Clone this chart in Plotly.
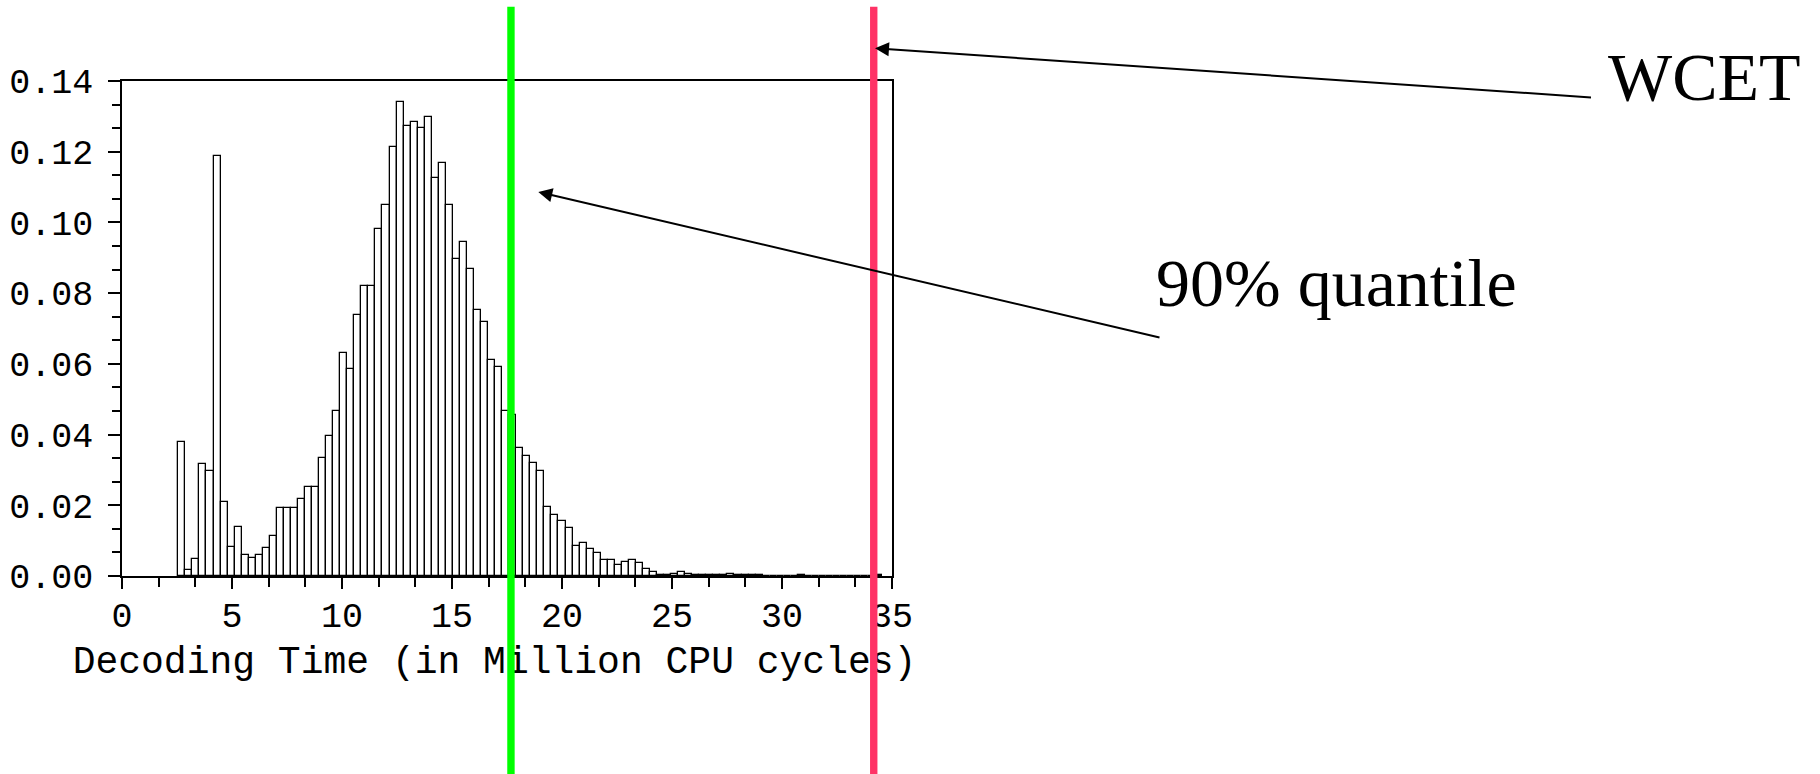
import plotly.graph_objects as go

# ---------------- data ----------------
BIN_WIDTH = 0.32          # million CPU cycles per histogram bin
FIRST_BIN = 8             # index of first drawn bin (bins aligned at 0)
# relative frequency of each bin, starting at bin FIRST_BIN
frequencies = [
    0.0380, 0.0016, 0.0049, 0.0318, 0.0297, 0.1189, 0.0210, 0.0082, 0.0140, 0.0058,
    0.0050, 0.0060, 0.0078, 0.0114, 0.0192, 0.0192, 0.0192, 0.0219, 0.0251, 0.0251,
    0.0334, 0.0397, 0.0466, 0.0631, 0.0586, 0.0739, 0.0819, 0.0821, 0.0982, 0.1049,
    0.1214, 0.1341, 0.1272, 0.1284, 0.1268, 0.1297, 0.1127, 0.1169, 0.1049, 0.0897,
    0.0946, 0.0868, 0.0751, 0.0719, 0.0612, 0.0591, 0.0466, 0.0455, 0.0363, 0.0338,
    0.0321, 0.0297, 0.0195, 0.0173, 0.0156, 0.0136, 0.0086, 0.0094, 0.0077, 0.0065,
    0.0044, 0.0044, 0.0032, 0.0039, 0.0044, 0.0036, 0.0020, 0.0011, 0.0004, 0.0003,
    0.0007, 0.0010, 0.0007, 0.0003, 0.0003, 0.0003, 0.0003, 0.0003, 0.0007, 0.0003,
    0.0003, 0.0003, 0.0003, 0.0, 0.0, 0.0, 0.0, 0.0, 0.0004, 0.0,
    0.0, 0.0, 0.0, 0.0, 0.0, 0.0, 0.0, 0.0, 0.0, 0.0004,
]
quantile90 = 17.68        # 90% quantile (million cycles)
wcet = 34.17              # WCET (million cycles)
x_range = [0, 35]
y_range = [0, 0.14]
x_title = "Decoding Time (in Million CPU cycles)"
label_wcet = "WCET"
label_q90 = "90% quantile"

# ---------------- figure ----------------
W, H = 1820, 774
BOX_L, BOX_R, BOX_T, BOX_B = 122, 892, 81, 576   # plot box in pixels


def px_x(p):   # pixel -> paper x
    return p / W


def px_y(p):   # pixel -> paper y
    return 1 - p / H


bin_centers = [(FIRST_BIN + i + 0.5) * BIN_WIDTH for i in range(len(frequencies))]

fig = go.Figure()
fig.add_trace(go.Bar(
    x=bin_centers, y=frequencies, width=BIN_WIDTH,
    marker=dict(color="white", line=dict(color="black", width=1.3)),
    hoverinfo="skip", showlegend=False, xaxis="x", yaxis="y",
))

# x-axis title drawn as text in a pixel-space overlay so the marker lines cover it
fig.add_trace(go.Scatter(
    x=[494.5], y=[663], mode="text", text=[x_title],
    textposition="middle center", cliponaxis=False,
    textfont=dict(family="Liberation Mono", size=38, color="black"),
    hoverinfo="skip", showlegend=False, xaxis="x2", yaxis="y2",
))

mono = dict(family="Liberation Mono", size=35, color="black")
fig.update_layout(
    xaxis=dict(
        domain=[px_x(BOX_L), px_x(BOX_R)], anchor="y", automargin=False,
        range=x_range, showgrid=False, zeroline=False,
        showline=True, linecolor="black", linewidth=1.5, mirror=True,
        ticks="outside", ticklen=11, tickwidth=1.5, tickcolor="black",
        tick0=0, dtick=5, tickfont=mono, ticklabelstandoff=-4,
        minor=dict(ticks="outside", dtick=5 / 3, tick0=0, ticklen=9,
                   tickwidth=1.5, tickcolor="black", showgrid=False),
        fixedrange=True,
    ),
    yaxis=dict(
        domain=[px_y(BOX_B), px_y(BOX_T)], anchor="x", automargin=False,
        range=y_range, showgrid=False, zeroline=False,
        showline=True, linecolor="black", linewidth=1.5, mirror=True,
        ticks="outside", ticklen=12, tickwidth=1.5, tickcolor="black",
        tick0=0, dtick=0.02, tickformat=".2f", tickfont=mono, ticklabelstandoff=8,
        minor=dict(ticks="outside", dtick=0.02 / 3, tick0=0, ticklen=8,
                   tickwidth=1.5, tickcolor="black", showgrid=False),
        fixedrange=True,
    ),
    xaxis2=dict(domain=[0, 1], anchor="y2", range=[0, W], visible=False,
                automargin=False, fixedrange=True),
    yaxis2=dict(domain=[0, 1], anchor="x2", range=[H, 0], visible=False,
                automargin=False, fixedrange=True),
)

# vertical marker lines
for xv, col in [(quantile90, "#00FF00"), (wcet, "#FF3366")]:
    fig.add_shape(type="line", xref="x", yref="paper",
                  x0=xv, x1=xv, y0=0, y1=px_y(6.7),
                  line=dict(color=col, width=7.4), layer="above")

serif = dict(family="Liberation Serif", size=68, color="black")
# arrows
fig.add_annotation(xref="paper", yref="paper", x=px_x(875), y=px_y(48.3),
                   ax=1592.5 - 875, ay=97.5 - 48.3, text="", showarrow=True,
                   arrowhead=2, arrowsize=1.4, arrowwidth=2, arrowcolor="black",
                   standoff=0, startstandoff=0)
fig.add_annotation(xref="paper", yref="paper", x=px_x(538.3), y=px_y(191.9),
                   ax=1161 - 538.3, ay=337.8 - 191.9, text="", showarrow=True,
                   arrowhead=2, arrowsize=1.4, arrowwidth=2, arrowcolor="black",
                   standoff=0, startstandoff=0)
# labels
fig.add_annotation(xref="paper", yref="paper", x=px_x(1704), y=px_y(77),
                   text=label_wcet, showarrow=False, font=serif,
                   xanchor="center", yanchor="middle")
fig.add_annotation(xref="paper", yref="paper", x=px_x(1336), y=px_y(283),
                   text=label_q90, showarrow=False, font=serif,
                   xanchor="center", yanchor="middle")

fig.update_layout(
    width=W, height=H,
    margin=dict(l=0, r=0, t=0, b=0, pad=0, autoexpand=False),
    paper_bgcolor="white", plot_bgcolor="rgba(0,0,0,0)",
    bargap=0, showlegend=False,
)

fig.write_html("out.html", config={"displayModeBar": False})
